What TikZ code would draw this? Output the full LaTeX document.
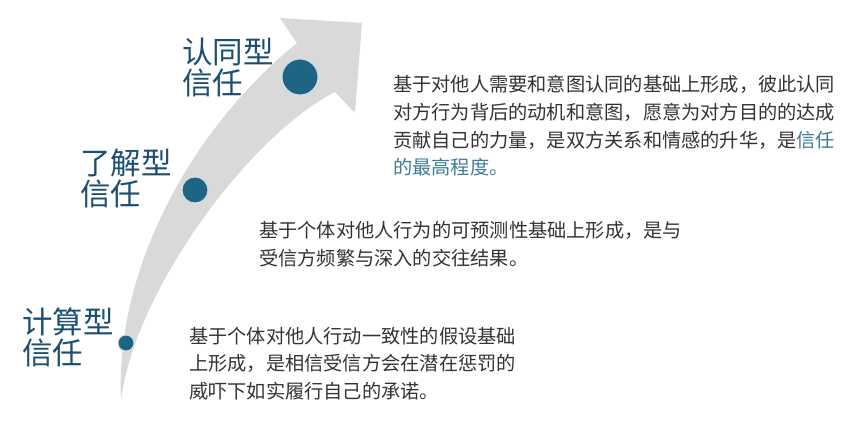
\documentclass[tikz,border=0pt]{standalone}
\usepackage{fontspec}
\setmainfont{Noto Sans CJK SC}

\definecolor{arrowgray}{HTML}{D9D9D9}
\definecolor{dotblue}{HTML}{1E6583}
\definecolor{titleblue}{HTML}{1B4F72}
\definecolor{bodytext}{HTML}{333333}
\definecolor{keyblue}{HTML}{3D7C95}

\tikzset{
  levelname/.style={anchor=west, inner sep=0pt, align=left, text=titleblue,
    font=\fontsize{26}{26.4}\selectfont},
  desc/.style={anchor=west, inner sep=0pt, align=left, text=bodytext,
    font=\fontsize{16.4}{23.6}\selectfont},
  stagedot/.style={circle, fill=dotblue, draw=white!80!dotblue, line width=0.8pt, inner sep=0pt}
}

\begin{document}
\begin{tikzpicture}[x=0.03cm,y=-0.03cm]
  \useasboundingbox (0,0) rectangle (861,433);

  % Curved arrow
  \fill[arrowgray] (121,400) .. controls (115,270) and (190,130) .. (297,43)
    -- (280,18) -- (362,23) -- (355,113) -- (335,92)
    .. controls (250,135) and (135,290) .. (121,400) -- cycle;

  % Dots on the arrow
  \node[stagedot, minimum size=0.48cm] (calc) at (126,343) {};
  \node[stagedot, minimum size=0.78cm] (know) at (195,190) {};
  \node[stagedot, minimum size=1.08cm] (iden) at (300,77) {};

  % Stage names
  \node[levelname] (calcname) at (22,337.5) {计算型\\信任};
  \node[levelname] (knowname) at (80,178.5) {了解型\\信任};
  \node[levelname] (idenname) at (182,67.5) {认同型\\信任};

  % Descriptions
  \node[desc] (calctext) at (189,363.6)
    {基于个体对他人行动一致性的假设基础\\上形成，是相信受信方会在潜在惩罚的\\威吓下如实履行自己的承诺。};
  \node[desc] (knowtext) at (259,244)
    {基于个体对他人行为的可预测性基础上形成，是与\\受信方频繁与深入的交往结果。};
  \node[desc] (identext) at (393,126)
    {基于对他人需要和意图认同的基础上形成，彼此认同\\对方行为背后的动机和意图，愿意为对方目的的达成\\贡献自己的力量，是双方关系和情感的升华，是\textcolor{keyblue}{信任}\\\textcolor{keyblue}{的最高程度。}};
\end{tikzpicture}
\end{document}
